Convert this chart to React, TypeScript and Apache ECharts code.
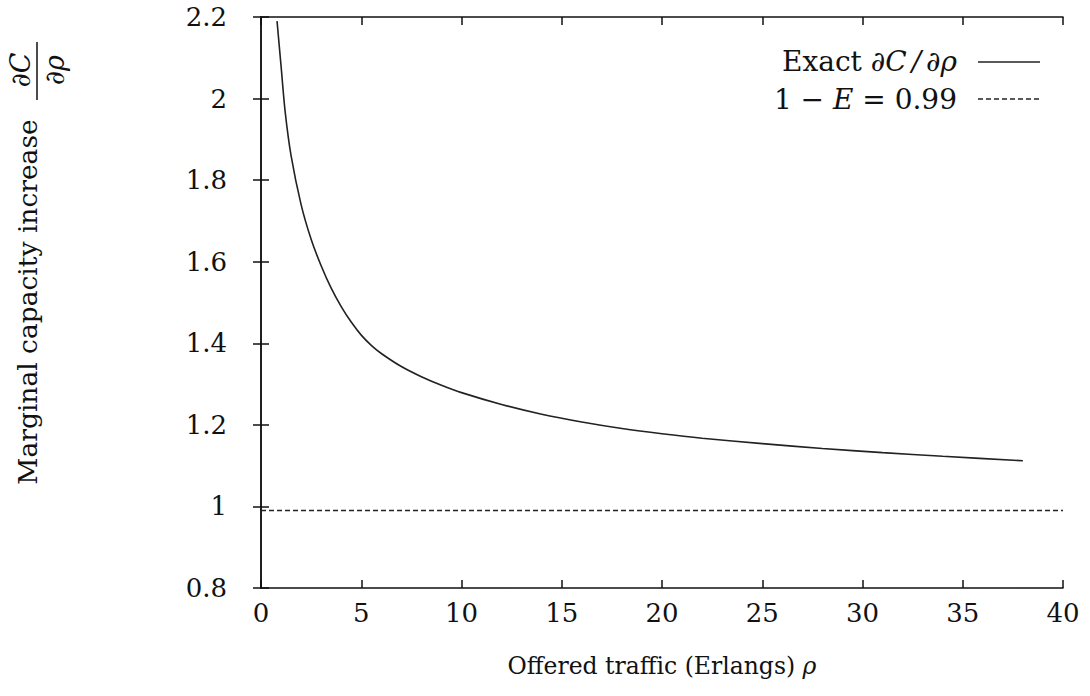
import React, { useEffect, useRef } from "react";
import * as echarts from "echarts";

const rhoValues = [0.8, 1.0, 1.2, 1.5, 2.0, 2.5, 3.0, 3.5, 4.0, 4.5, 5.0, 5.5, 6.0, 7.0, 8.0, 9.0, 10, 12, 14, 16, 18, 20, 22, 25, 28, 31, 34, 38];
const exactValues = [2.19, 2.08, 1.97, 1.86, 1.74, 1.655, 1.59, 1.535, 1.49, 1.452, 1.42, 1.395, 1.375, 1.343, 1.318, 1.297, 1.279, 1.25, 1.226, 1.207, 1.191, 1.178, 1.167, 1.154, 1.142, 1.132, 1.123, 1.112];
const approxX = [0, 40];
const approxValues = [0.99, 0.99];
const xTicks = { min: 0, max: 40, interval: 5 };
const yTicks = { min: 0.8, max: 2.2, interval: 0.2 };

const FONT = "DejaVu Serif";
const LEG = 28;

export default function App() {
  const ref = useRef<HTMLDivElement>(null);
  useEffect(() => {
    if (!ref.current) return;
    const chart = echarts.init(ref.current, null, { renderer: "svg" });
    const axisLine = { show: true, lineStyle: { color: "#111", width: 1.5 } };
    const tick = { show: true, inside: true, length: 8, lineStyle: { color: "#111", width: 1.5 } };
    const lbl = { fontFamily: FONT, fontSize: 26, color: "#111" };
    chart.setOption({
      animation: false,
      backgroundColor: "#fff",
      grid: { left: 261, right: 27, top: 17, bottom: 108, containLabel: false },
      xAxis: [
        {
          type: "value", min: xTicks.min, max: xTicks.max, interval: xTicks.interval,
          position: "bottom", axisLine, axisTick: tick, splitLine: { show: false },
          axisLabel: { ...lbl, margin: 12 },
          name: "{n|Offered traffic (Erlangs) }{i|ρ}",
          nameLocation: "middle", nameGap: 66,
          nameTextStyle: {
            rich: {
              n: { fontFamily: FONT, fontSize: 23.5, color: "#111" },
              i: { fontFamily: FONT, fontSize: 23.5, fontStyle: "italic", color: "#111" },
            },
          },
        },
        {
          type: "value", min: xTicks.min, max: xTicks.max, interval: xTicks.interval,
          position: "top", axisLine, axisTick: tick, axisLabel: { show: false }, splitLine: { show: false },
        },
      ],
      yAxis: [
        {
          type: "value", min: yTicks.min, max: yTicks.max, interval: yTicks.interval,
          position: "left", axisLine, axisTick: tick, splitLine: { show: false },
          axisLabel: { ...lbl, margin: 34, formatter: (v: number) => String(Math.round(v * 10) / 10) },
        },
        {
          type: "value", min: yTicks.min, max: yTicks.max, interval: yTicks.interval,
          position: "right", axisLine, axisTick: tick, axisLabel: { show: false }, splitLine: { show: false },
        },
      ],
      series: [
        {
          name: "Exact ∂C/∂ρ", type: "line", smooth: 0.25, showSymbol: false,
          data: rhoValues.map((r, i) => [r, exactValues[i]]),
          lineStyle: { color: "#222", width: 1.6 }, itemStyle: { color: "#222" },
        },
        {
          name: "1 − E = 0.99", type: "line", showSymbol: false,
          data: approxX.map((r, i) => [r, approxValues[i]]),
          lineStyle: { color: "#222", width: 1.4, type: [5, 3] }, itemStyle: { color: "#222" },
        },
      ],
      graphic: [
        {
          type: "text", x: 957, y: 61,
          style: {
            text: "{n|Exact }{i|∂C}{s|/}{i|∂ρ}", align: "right", verticalAlign: "middle",
            rich: {
              n: { fontFamily: FONT, fontSize: LEG, fill: "#111" },
              i: { fontFamily: FONT, fontSize: LEG, fontStyle: "italic", fill: "#111" },
              s: { fontFamily: FONT, fontSize: LEG, fontStyle: "italic", fill: "#111", padding: [0, 5, 0, 5] },
            },
          },
        },
        { type: "line", shape: { x1: 978, y1: 62, x2: 1040, y2: 62 }, style: { stroke: "#222", lineWidth: 1.5 } },
        {
          type: "text", x: 957, y: 99,
          style: {
            text: "{n|1 − }{i|E}{n| = 0.99}", align: "right", verticalAlign: "middle",
            rich: {
              n: { fontFamily: FONT, fontSize: LEG, fill: "#111" },
              i: { fontFamily: FONT, fontSize: LEG, fontStyle: "italic", fill: "#111" },
            },
          },
        },
        { type: "line", shape: { x1: 978, y1: 99, x2: 1040, y2: 99 }, style: { stroke: "#222", lineWidth: 1.4, lineDash: [5, 3] } },
        {
          type: "text", x: 27, y: 302, rotation: Math.PI / 2,
          style: { text: "Marginal capacity increase", align: "center", verticalAlign: "middle", fontFamily: FONT, fontSize: 26.5, fill: "#111" },
        },
        {
          type: "text", x: 20, y: 70, rotation: Math.PI / 2,
          style: { text: "∂C", align: "center", verticalAlign: "middle", fontFamily: FONT, fontSize: 27, fontStyle: "italic", fill: "#111" },
        },
        { type: "line", shape: { x1: 37, y1: 42, x2: 37, y2: 100 }, style: { stroke: "#111", lineWidth: 1.5 } },
        {
          type: "text", x: 54, y: 70, rotation: Math.PI / 2,
          style: { text: "∂ρ", align: "center", verticalAlign: "middle", fontFamily: FONT, fontSize: 27, fontStyle: "italic", fill: "#111" },
        },
      ],
    });
    return () => chart.dispose();
  }, []);
  return <div ref={ref} style={{ position: "fixed", left: 0, top: 0, width: 1090, height: 696 }} />;
}
